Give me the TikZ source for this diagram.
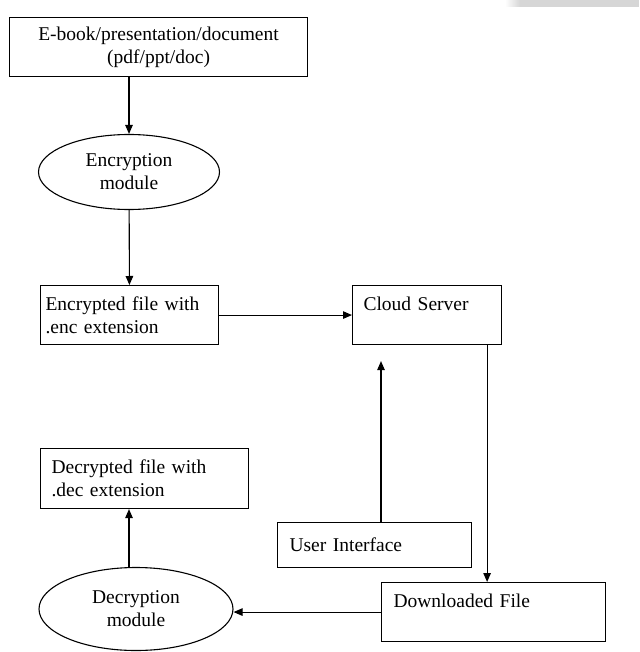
\documentclass[tikz,border=0pt]{standalone}
\usepackage{fontspec}
\setmainfont{Liberation Serif}
\usetikzlibrary{arrows.meta,shapes.geometric,positioning,calc}

\tikzset{
  box/.style={draw, line width=1.1pt, rectangle, anchor=north west, align=left,
              inner ysep=0pt, font=\fontsize{19.5}{23}\selectfont},
  oval/.style={draw, line width=1.1pt, ellipse, inner sep=0pt, align=center,
               font=\fontsize{19.5}{23}\selectfont},
  arr/.style={-{Triangle[length=9pt,width=7.5pt]}, line width=1.1pt}
}

\begin{document}
\begin{tikzpicture}[x=1pt, y=-1pt]
                \useasboundingbox (0,0) rectangle (639,652);
                \shade [left color=white, right color=black!16] (505,0) rectangle (520,7);
                \fill [black!16] (520,0) rectangle (639,7);

                \node (ebook) [box, align=center, text width=284pt, inner xsep=7pt, minimum height=59pt] at (9,17) {E-book/presentation/document\\(pdf/ppt/doc)};
                \node (encm) [oval, minimum width=181pt, minimum height=75pt] at (129,172) {Encryption\\module};
                \node (encb) [box, text width=168pt, inner xsep=5pt, minimum height=59pt] at (40,285) {Encrypted file with\\.enc extension};
                \node (cloud) [box, text width=127pt, inner xsep=11pt, minimum height=59pt] at (352,285) {Cloud Server\\ \mbox{}};
                \node (decb) [box, text width=186pt, inner xsep=11pt, minimum height=60pt] at (40,448) {Decrypted file with\\.dec extension};
                \node (ui) [box, text width=170pt, inner xsep=12pt, minimum height=45pt] at (277,522) {User Interface};
                \node (dl) [box, text width=200pt, inner xsep=12pt, minimum height=59pt] at (381,582) {Downloaded File\\ \mbox{}};
                \node (decm) [oval, minimum width=194pt, minimum height=83pt] at (136,609) {Decryption\\module};

                \path [arr]
                    (ebook.south -| encm) edge (encm)
                    (encm) edge (encb)
                    (encb) edge (cloud)
                    ($(cloud.south east)+(-15,0)$) edge ($(cloud.south east |- dl.north)+(-15,0)$)
                    (ui.north -| dl.west) edge [shorten >=16pt] (cloud.south -| dl.west)
                    (dl.west) edge (dl.west -| decm.east)
                    (decm.north -| encm) edge (decb.south -| encm);
            \end{tikzpicture}
\end{document}
